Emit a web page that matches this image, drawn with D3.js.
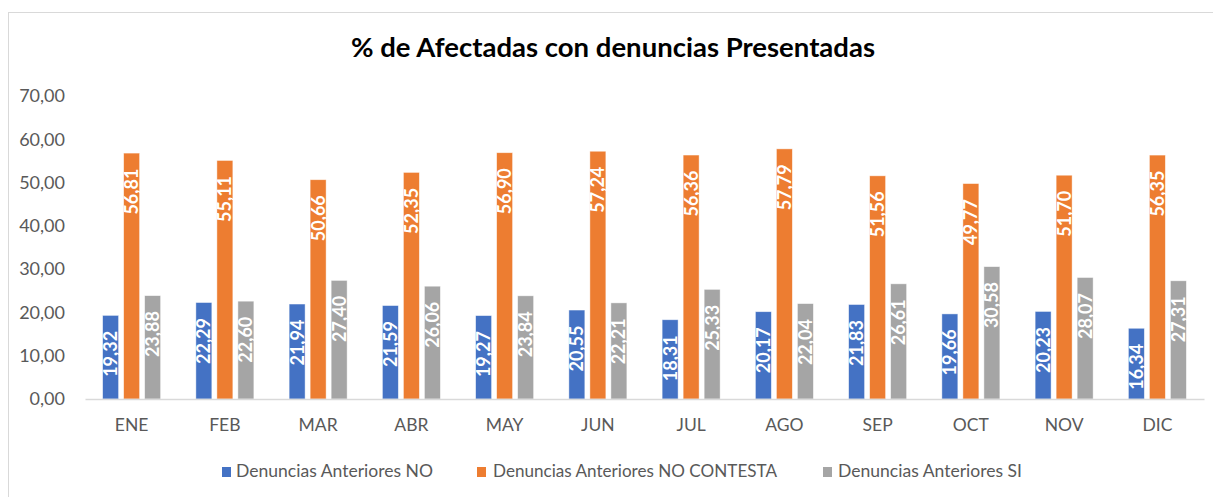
<!DOCTYPE html>
<html><head><meta charset="utf-8">
<script src="https://cdn.jsdelivr.net/npm/d3@7"></script>
<style>body{margin:0;background:#fff;}svg{display:block;}</style>
</head><body>
<svg id="c" width="1213" height="497"></svg>
<script>
const months = ["ENE","FEB","MAR","ABR","MAY","JUN","JUL","AGO","SEP","OCT","NOV","DIC"];
const seriesNames = ["Denuncias Anteriores NO","Denuncias Anteriores NO CONTESTA","Denuncias Anteriores SI"];
const valuesNO = [19.32,22.29,21.94,21.59,19.27,20.55,18.31,20.17,21.83,19.66,20.23,16.34];
const valuesNC = [56.81,55.11,50.66,52.35,56.90,57.24,56.36,57.79,51.56,49.77,51.70,56.35];
const valuesSI = [23.88,22.60,27.40,26.06,23.84,22.21,25.33,22.04,26.61,30.58,28.07,27.31];
const yTicks = [0,10,20,30,40,50,60,70];
const colors = ["#4472C4","#ED7D31","#A5A5A5"];
const title = "% de Afectadas con denuncias Presentadas";

const svg = d3.select("#c");
const font = "Lato, 'Open Sans', sans-serif";
const fmt = v => v.toFixed(2).replace(".", ",");

// outer border
svg.append("rect").attr("x",8.5).attr("y",12.5).attr("width",1220).attr("height",500)
  .attr("fill","none").attr("stroke","#d9d9d9").attr("stroke-width",1);

const x0 = d3.scaleBand().domain(months).range([85,1204]).paddingInner(0).paddingOuter(0);
const x1 = d3.scaleBand().domain([0,1,2]).range([x0.bandwidth()/2-29, x0.bandwidth()/2+29]).paddingInner(0.24);
const y = d3.scaleLinear().domain([0,70]).range([399,96]);

svg.append("text").attr("x",613).attr("y",57).attr("text-anchor","middle")
  .attr("font-family",font).attr("font-weight","bold").attr("font-size",27)
  .attr("textLength",524).attr("lengthAdjust","spacingAndGlyphs").attr("fill","#000").text(title);

// y axis labels
const yAxis = d3.axisLeft(y).tickValues(yTicks).tickFormat(fmt).tickSize(0).tickPadding(0);
const yg = svg.append("g").attr("transform","translate(65,0)").call(yAxis);
yg.select(".domain").remove();
yg.selectAll("text").attr("font-family",font).attr("font-size",18).attr("fill","#595959");

const series = [valuesNO, valuesNC, valuesSI];
const groups = svg.append("g");
months.forEach((m,i)=>{
  series.forEach((vals,s)=>{
    const bx = x0(m)+x1(s), bw = x1.bandwidth(), v = vals[i];
    groups.append("rect").attr("x",bx).attr("y",y(v)).attr("width",bw).attr("height",y(0)-y(v))
      .attr("fill",colors[s]).attr("stroke","#fff").attr("stroke-opacity",0.6).attr("stroke-width",0.75);
    groups.append("text")
      .attr("transform",`translate(${bx+bw/2+6.5},${y(v)+15.5}) rotate(-90)`)
      .attr("text-anchor","end").attr("font-family",font).attr("font-weight","bold")
      .attr("font-size",18).attr("fill","#fff").text(fmt(v));
  });
});

// x axis
const xAxis = d3.axisBottom(x0).tickSize(0).tickPadding(20);
const xg = svg.append("g").attr("transform","translate(0,399)").call(xAxis);
xg.select(".domain").attr("stroke","#d9d9d9").attr("stroke-width",1.5);
xg.selectAll("text").attr("font-family",font).attr("font-size",17.5).attr("fill","#595959");

// legend
const legX = [222,477,823];
const legT = [236,493,838];
const legW = [197,284,184];
seriesNames.forEach((n,s)=>{
  svg.append("rect").attr("x",legX[s]).attr("y",467).attr("width",9).attr("height",10).attr("fill",colors[s]);
  svg.append("text").attr("x",legT[s]).attr("y",477).attr("font-family",font).attr("font-size",17.5)
    .attr("textLength",legW[s]).attr("lengthAdjust","spacingAndGlyphs")
    .attr("fill","#595959").text(n);
});
</script>
</body></html>
